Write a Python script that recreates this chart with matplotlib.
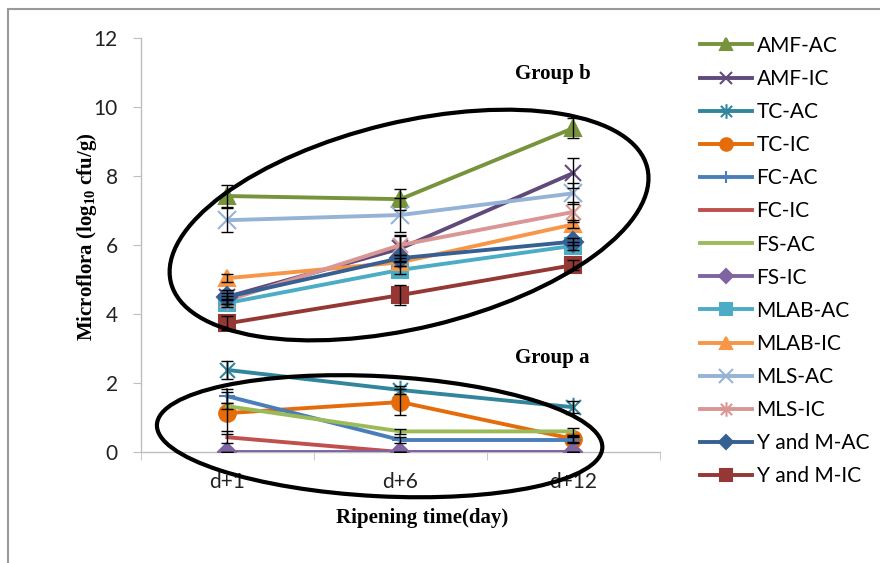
import matplotlib
matplotlib.use("Agg")
import matplotlib.pyplot as plt
from matplotlib.patches import Ellipse, Rectangle
from matplotlib.path import Path
from matplotlib.transforms import IdentityTransform

days = ["d+1", "d+6", "d+12"]

amf_ac = [7.42, 7.33, 9.39]
amf_ic = [4.50, 5.90, 8.09]
tc_ac = [2.38, 1.80, 1.30]
tc_ic = [1.13, 1.45, 0.38]
fc_ac = [1.62, 0.35, 0.35]
fc_ic = [0.43, 0.0, 0.0]
fs_ac = [1.33, 0.60, 0.60]
fs_ic = [0.0, 0.0, 0.0]
mlab_ac = [4.32, 5.28, 5.98]
mlab_ic = [5.04, 5.50, 6.60]
mls_ac = [6.72, 6.87, 7.50]
mls_ic = [4.40, 6.00, 6.96]
ym_ac = [4.50, 5.62, 6.10]
ym_ic = [3.73, 4.55, 5.42]

err = {
    "AMF-AC": [0.32, 0.30, 0.30],
    "AMF-IC": [0.20, 0.35, 0.43],
    "TC-AC": [0.25, 0.12, 0.18],
    "TC-IC": [0.60, 0.38, 0.10],
    "FC-AC": [0.20, 0.08, 0.08],
    "FC-IC": [0.18, 0.0, 0.0],
    "FS-AC": [0.08, 0.08, 0.10],
    "FS-IC": [0.0, 0.0, 0.0],
    "MLAB-AC": [0.12, 0.12, 0.12],
    "MLAB-IC": [0.12, 0.12, 0.12],
    "MLS-AC": [0.35, 0.50, 0.30],
    "MLS-IC": [0.12, 0.30, 0.30],
    "Y and M-AC": [0.10, 0.10, 0.10],
    "Y and M-IC": [0.20, 0.30, 0.15],
}

plt.rcParams["mathtext.fontset"] = "custom"
plt.rcParams["mathtext.rm"] = "Liberation Serif:bold"
plt.rcParams["mathtext.it"] = "Liberation Serif:bold"
plt.rcParams["mathtext.bf"] = "Liberation Serif:bold"

# Excel-like star marker: an x with a vertical bar
star = Path([(-1, -1), (1, 1), (-1, 1), (1, -1), (0, -1.3), (0, 1.3)],
            [Path.MOVETO, Path.LINETO, Path.MOVETO, Path.LINETO, Path.MOVETO, Path.LINETO])

series = [
    ("AMF-AC", amf_ac, "#77933C", "^", 12),
    ("AMF-IC", amf_ic, "#604A7B", "x", 12),
    ("TC-AC", tc_ac, "#31859C", star, 14),
    ("TC-IC", tc_ic, "#E46C0A", "o", 12),
    ("FC-AC", fc_ac, "#4A7EBB", "+", 12),
    ("FC-IC", fc_ic, "#C0504D", "None", 0),
    ("FS-AC", fs_ac, "#9BBB59", "None", 0),
    ("FS-IC", fs_ic, "#8064A2", "D", 9),
    ("MLAB-AC", mlab_ac, "#4BACC6", "s", 11),
    ("MLAB-IC", mlab_ic, "#F79646", "^", 12),
    ("MLS-AC", mls_ac, "#95B3D7", "x", 13),
    ("MLS-IC", mls_ic, "#D99694", star, 14),
    ("Y and M-AC", ym_ac, "#376092", "D", 10),
    ("Y and M-IC", ym_ic, "#953735", "s", 12),
]

serif = {"family": "Liberation Serif", "weight": "bold", "size": 15}

fig = plt.figure(figsize=(8.8, 5.63), dpi=100)
ax = fig.add_axes([0.160, 0.197, 0.590, 0.7355])
x = list(range(len(days)))

handles = []
for name, vals, col, mk, ms in series:
    ax.errorbar(x, vals, yerr=err[name], fmt="none", ecolor="black",
                elinewidth=1, capsize=4, capthick=1, zorder=4)
    h, = ax.plot(x, vals, color=col, lw=2.8, marker=mk, markersize=ms,
                 markerfacecolor=col, markeredgecolor=col, markeredgewidth=1.5,
                 label=name, zorder=3)
    handles.append(h)

ax.set_xlim(-0.5, 2.5)
ax.set_ylim(0, 12)
ax.set_yticks(range(0, 13, 2))
ax.set_xticks(x)
ax.set_xticklabels(days)
ax.set_xticks([-0.5, 0.5, 1.5, 2.5], minor=True)
ax.tick_params(axis="x", which="major", length=0, pad=14, labelsize=15, colors="#222222")
ax.tick_params(axis="x", which="minor", length=5.5, color="#BFBFBF", direction="out")
ax.tick_params(axis="y", length=5.5, color="#BFBFBF", pad=11, labelsize=15, colors="#222222")
for lab in ax.get_xticklabels() + ax.get_yticklabels():
    lab.set_fontfamily("Lato")
for s in ["top", "right"]:
    ax.spines[s].set_visible(False)
for s in ["left", "bottom"]:
    ax.spines[s].set_color("#BFBFBF")
    ax.spines[s].set_linewidth(1)

ax.set_ylabel("Microflora (log$_{10}$ cfu/g)", fontdict=serif)
ax.yaxis.set_label_coords(-0.08, 0.52)
ax.set_xlabel("Ripening time(day)", fontdict=serif)
ax.xaxis.set_label_coords(0.541, -0.135)

ax.text(1.88, 10.95, "Group b", fontdict=serif, ha="center", va="center")
ax.text(1.88, 2.73, "Group a", fontdict=serif, ha="center", va="center")

# hand-drawn group ellipses (pixel sizes, centred on data positions)
fig.canvas.draw()
for cx, cy, w, h, ang in [(1.05, 6.58, 490, 206, 13.5), (0.88, 0.46, 446, 120, -3.0)]:
    px, py = ax.transData.transform((cx, cy))
    e = Ellipse((px, py), w, h, angle=ang, fill=False, edgecolor="black",
                linewidth=3, transform=IdentityTransform(), zorder=6, clip_on=False)
    fig.add_artist(e)

leg = fig.legend(handles=handles, loc="upper left", bbox_to_anchor=(0.784, 0.955),
                 frameon=False, borderpad=0, handlelength=2.5, handletextpad=0.2,
                 labelspacing=0.63, markerscale=0.75,
                 prop={"family": "Lato", "size": 15})

fig.add_artist(Rectangle((0.009, -0.1), 1.2, 1.084, transform=fig.transFigure,
                         fill=False, edgecolor="#999999", linewidth=1.5))

fig.savefig("out.png", dpi=100)
